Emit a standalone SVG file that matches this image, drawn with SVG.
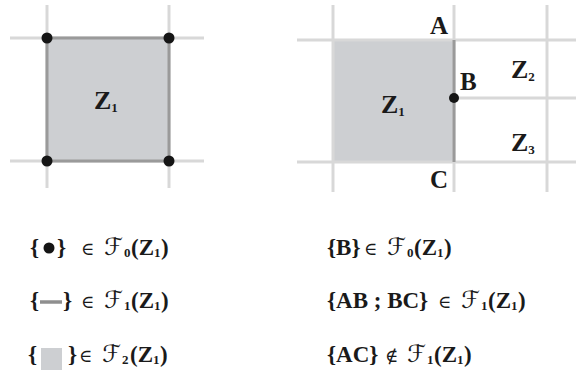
<svg xmlns="http://www.w3.org/2000/svg" width="576" height="383" viewBox="0 0 576 383">
<style>
.grid{stroke:#d8d8d8;stroke-width:3;fill:none}
.edge{stroke:#9a9a9a;stroke-width:3;fill:none}
.face{fill:#cdcfd2}
.dot{fill:#151515}
.lbl{font-family:"Liberation Serif",serif;font-weight:bold;fill:#1a1a1a}
.m{font-family:"Liberation Serif",serif;font-size:23px;font-weight:bold;fill:#1a1a1a}
.op{font-family:"DejaVu Serif","DejaVu Sans",serif;font-size:18px;fill:#1a1a1a}
.sf{font-family:"DejaVu Serif","DejaVu Sans",serif;font-size:24px;font-style:italic;fill:#1a1a1a}
.sub{font-family:"Liberation Serif",serif;font-size:13px;font-weight:bold;fill:#1a1a1a}
</style>
<g id="left-diagram">
  <g id="left-grid">
    <line class="grid" x1="10" y1="38" x2="204" y2="38"/>
    <line class="grid" x1="10" y1="161" x2="204" y2="161"/>
    <line class="grid" x1="47" y1="5" x2="47" y2="188"/>
    <line class="grid" x1="169" y1="5" x2="169" y2="188"/>
  </g>
  <g id="left-Z1">
    <rect class="face" x="47" y="38" width="122" height="123"/>
    <rect class="edge" x="47" y="38" width="122" height="123"/>
    <text class="lbl" x="94" y="109" font-size="26">Z<tspan font-size="13" dy="3">1</tspan></text>
  </g>
  <g id="left-vertices">
    <circle class="dot" cx="47" cy="38" r="5.5"/>
    <circle class="dot" cx="169" cy="38" r="5.5"/>
    <circle class="dot" cx="47" cy="161" r="5.5"/>
    <circle class="dot" cx="169" cy="161" r="5.5"/>
  </g>
</g>
<g id="right-diagram">
  <g id="right-grid">
    <rect class="face" x="333" y="40" width="121" height="122"/>
    <line class="grid" x1="333" y1="5" x2="333" y2="192"/>
    <line class="grid" x1="454" y1="5" x2="454" y2="192"/>
    <line class="grid" x1="547" y1="5" x2="547" y2="192"/>
    <line class="grid" x1="297" y1="40" x2="576" y2="40"/>
    <line class="grid" x1="297" y1="162" x2="576" y2="162"/>
    <line class="grid" x1="454" y1="98" x2="576" y2="98"/>
    <line class="edge" x1="454" y1="40" x2="454" y2="162"/>
  </g>
  <g id="right-Z1"><text class="lbl" x="381" y="113" font-size="26">Z<tspan font-size="13" dy="3">1</tspan></text></g>
  <g id="right-Z2"><text class="lbl" x="511" y="78" font-size="26">Z<tspan font-size="13" dy="3">2</tspan></text></g>
  <g id="right-Z3"><text class="lbl" x="511" y="151" font-size="26">Z<tspan font-size="13" dy="3">3</tspan></text></g>
  <g id="vertex-A"><text class="lbl" x="430" y="34" font-size="25">A</text></g>
  <g id="vertex-B"><circle class="dot" cx="454" cy="98" r="5"/><text class="lbl" x="460" y="90" font-size="25">B</text></g>
  <g id="vertex-C"><text class="lbl" x="430" y="188" font-size="25">C</text></g>
</g>
<g id="legend-left">
  <g id="f0">
    <text class="m" x="30" y="255">{</text>
    <circle class="dot" cx="49" cy="248" r="5.5"/>
    <text class="m" x="57" y="255">}</text>
    <text class="op" x="81" y="255">∈</text>
    <text class="sf" x="104" y="255">ℱ</text><text class="sub" x="124" y="257">0</text>
    <text class="m" x="131" y="255">(Z</text><text class="sub" x="154" y="257">1</text><text class="m" x="161" y="255">)</text>
  </g>
  <g id="f1">
    <text class="m" x="30" y="308">{</text>
    <line x1="40" y1="302" x2="62" y2="302" stroke="#8f8f8f" stroke-width="3.5"/>
    <text class="m" x="63" y="308">}</text>
    <text class="op" x="81" y="308">∈</text>
    <text class="sf" x="104" y="308">ℱ</text><text class="sub" x="124" y="310">1</text>
    <text class="m" x="131" y="308">(Z</text><text class="sub" x="154" y="310">1</text><text class="m" x="161" y="308">)</text>
  </g>
  <g id="f2">
    <text class="m" x="28" y="362">{</text>
    <rect class="face" x="41" y="348" width="21" height="22"/>
    <text class="m" x="68" y="362">}</text>
    <text class="op" x="79" y="362">∈</text>
    <text class="sf" x="102" y="362">ℱ</text><text class="sub" x="122" y="364">2</text>
    <text class="m" x="130" y="362">(Z</text><text class="sub" x="153" y="364">1</text><text class="m" x="160" y="362">)</text>
  </g>
</g>
<g id="legend-right">
  <g id="B-in-F0">
    <text class="m" x="327" y="255">{B}</text>
    <text class="op" x="364" y="255">∈</text>
    <text class="sf" x="387" y="255">ℱ</text><text class="sub" x="407" y="257">0</text>
    <text class="m" x="414" y="255">(Z</text><text class="sub" x="437" y="257">1</text><text class="m" x="444" y="255">)</text>
  </g>
  <g id="AB-BC-in-F1">
    <text class="m" x="327" y="308">{AB ; BC}</text>
    <text class="op" x="438" y="308">∈</text>
    <text class="sf" x="461" y="308">ℱ</text><text class="sub" x="481" y="310">1</text>
    <text class="m" x="488" y="308">(Z</text><text class="sub" x="511" y="310">1</text><text class="m" x="518" y="308">)</text>
  </g>
  <g id="AC-notin-F1">
    <text class="m" x="327" y="362">{AC}</text>
    <text class="op" x="385" y="362">∉</text>
    <text class="sf" x="407" y="362">ℱ</text><text class="sub" x="427" y="364">1</text>
    <text class="m" x="434" y="362">(Z</text><text class="sub" x="457" y="364">1</text><text class="m" x="464" y="362">)</text>
  </g>
</g>
</svg>
